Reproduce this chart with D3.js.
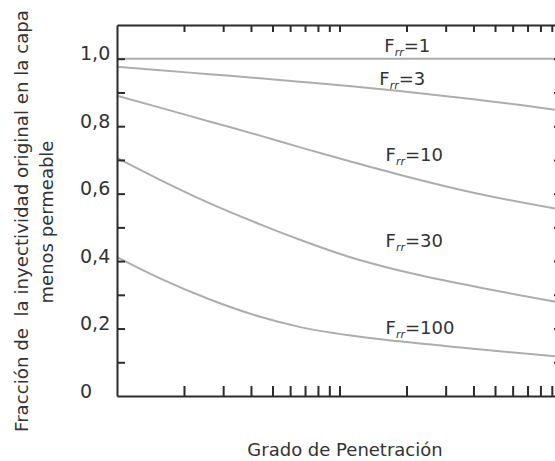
<!DOCTYPE html>
<html>
<head>
<meta charset="utf-8">
<script src="https://cdn.jsdelivr.net/npm/d3@7"></script>
<style>
  html, body { margin: 0; padding: 0; background: #fff; }
  svg { display: block; font-family: "DejaVu Sans", Verdana, sans-serif; }
</style>
</head>
<body>
<script>
// Penetration degree (log axis, arbitrary units) and injectivity fraction per resistance factor
const penetration = [1, 1.56, 2.6, 4.4, 6.6, 11, 18.6, 41, 100];
const frr1   = [1, 1, 1, 1, 1, 1, 1, 1, 1];
const frr3   = [0.976, 0.966, 0.954, 0.942, 0.932, 0.919, 0.904, 0.879, 0.846];
const frr10  = [0.890, 0.855, 0.814, 0.772, 0.738, 0.697, 0.656, 0.601, 0.552];
const frr30  = [0.706, 0.641, 0.572, 0.509, 0.464, 0.413, 0.372, 0.324, 0.276];
const frr100 = [0.412, 0.349, 0.287, 0.235, 0.205, 0.180, 0.162, 0.139, 0.116];

const seriesNames = ["1", "3", "10", "30", "100"];
const seriesValues = [frr1, frr3, frr10, frr30, frr100];

// Curve label anchors in data units (penetration, fraction)
const labelX = [15.9, 15.1, 16.1, 16.1, 16.1];
const labelY = [1.021, 0.923, 0.697, 0.442, 0.184];

const yLabelValues = [0, 0.2, 0.4, 0.6, 0.8, 1.0];
const yMinorTicks = [0.1, 0.2, 0.3, 0.4, 0.5, 0.6, 0.7, 0.8, 0.9, 1.0];

const W = 555, H = 461;
const plotLeft = 117, plotRight = 562, plotTop = 25, plotBottom = 396;

const svg = d3.select("body").append("svg").attr("width", W).attr("height", H);

const x = d3.scaleLog().domain([1, 100]).range([plotLeft, plotRight]);
const y = d3.scaleLinear().domain([0, 1.1]).range([plotBottom, plotTop]);

const axisColor = "#2b2b2b";
const textColor = "#333";

// Curves
const line = d3.line()
  .x(d => x(d[0]))
  .y(d => y(d[1]))
  .curve(d3.curveMonotoneX);

svg.append("g")
  .selectAll("path")
  .data(seriesValues)
  .join("path")
  .attr("d", vals => line(penetration.map((p, i) => [p, vals[i]])))
  .attr("fill", "none")
  .attr("stroke", "#adadad")
  .attr("stroke-width", 2);

// Minor ticks on all four sides
const xTickVals = x.ticks().filter(v => v > 1);

const bottomAxis = svg.append("g")
  .attr("transform", `translate(0,${plotBottom})`)
  .call(d3.axisBottom(x).tickValues(xTickVals).tickSize(-10).tickSizeOuter(0).tickFormat(""));
const topAxis = svg.append("g")
  .attr("transform", `translate(0,${plotTop})`)
  .call(d3.axisTop(x).tickValues(xTickVals).tickSize(-7).tickSizeOuter(0).tickFormat(""));
const leftAxis = svg.append("g")
  .attr("transform", `translate(${plotLeft},0)`)
  .call(d3.axisLeft(y).tickValues(yMinorTicks).tickSize(-8).tickSizeOuter(0).tickFormat(""));
const rightAxis = svg.append("g")
  .attr("transform", `translate(${plotRight},0)`)
  .call(d3.axisRight(y).tickValues(yMinorTicks).tickSize(-8).tickSizeOuter(0).tickFormat(""));

[bottomAxis, topAxis, leftAxis, rightAxis].forEach(g => {
  g.select(".domain").attr("stroke", axisColor).attr("stroke-width", 2);
  g.selectAll(".tick line").attr("stroke", axisColor).attr("stroke-width", 2);
});

// Y tick labels (comma decimals)
const fmt = v => v === 0 ? "0" : d3.format(".1f")(v).replace(".", ",");
const yLabels = svg.append("g")
  .attr("transform", `translate(${plotLeft},0)`)
  .call(d3.axisLeft(y).tickValues(yLabelValues).tickSize(0).tickFormat(fmt));
yLabels.select(".domain").remove();
yLabels.selectAll("text")
  .attr("x", 80 - plotLeft)
  .attr("y", -5)
  .attr("text-anchor", "start")
  .attr("fill", textColor)
  .style("font-size", "19px")
  .style("font-family", "'DejaVu Sans', Verdana, sans-serif");

// Curve labels: F_rr = value
const labels = svg.append("g").attr("fill", textColor);
seriesNames.forEach((name, i) => {
  const t = labels.append("text")
    .attr("x", x(labelX[i]))
    .attr("y", y(labelY[i]))
    .style("font-size", "18px");
  t.append("tspan").text("F");
  t.append("tspan").attr("dy", 4).style("font-size", "11px").style("font-style", "italic").text("rr");
  t.append("tspan").attr("dy", -4).text("=" + name);
});

// Axis titles
svg.append("text")
  .attr("x", 345)
  .attr("y", 456)
  .attr("text-anchor", "middle")
  .attr("fill", textColor)
  .style("font-size", "18px")
  .text("Grado de Penetración");

const yTitle = svg.append("g")
  .attr("fill", textColor)
  .style("font-size", "18px");
yTitle.append("text")
  .attr("transform", "translate(28,221) rotate(-90)")
  .attr("text-anchor", "middle")
  .attr("textLength", 422)
  .attr("lengthAdjust", "spacingAndGlyphs")
  .style("white-space", "pre")
  .text("Fracción de  la inyectividad original en la capa");
yTitle.append("text")
  .attr("transform", "translate(53,222) rotate(-90)")
  .attr("text-anchor", "middle")
  .text("menos permeable");
</script>
</body>
</html>
